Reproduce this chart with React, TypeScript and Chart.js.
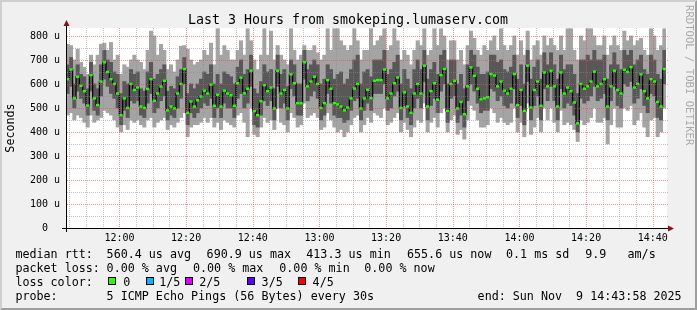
import { useEffect, useRef } from 'react';
import { Chart, registerables } from 'chart.js';

Chart.register(...registerables);

// ---------- text ----------
const TITLE = 'Last 3 Hours from smokeping.lumaserv.com';
const Y_TITLE = 'Seconds';
const WATERMARK = 'RRDTOOL / TOBI OETIKER';
const RTT_HEAD = 'median rtt:';
const RTT_STATS = ['560.4 us avg', '690.9 us max', '413.3 us min', '655.6 us now', '0.1 ms sd', '9.9   am/s'];
const LOSS_HEAD = 'packet loss:';
const LOSS_STATS = ['0.00 % avg', '0.00 % max', '0.00 % min', '0.00 % now'];
const COLOR_HEAD = 'loss color:';
const LOSS_LABELS = ['0', '1/5', '2/5', '3/5', '4/5'];
const LOSS_COLORS = ['#26ff00', '#00b8ff', '#dd00ff', '#5e00ff', '#ff0000'];
const PROBE_HEAD = 'probe:';
const PROBE_TEXT = '5 ICMP Echo Pings (56 Bytes) every 30s';
const END_TEXT = 'end: Sun Nov  9 14:43:58 2025';

// ---------- time axis (minutes after 11:00) ----------
const START_MIN = 43 + 58 / 60; // 11:43:58
const END_MIN = START_MIN + 180; // 14:43:58
const STEP_MIN = 1;
const X_TICKS = [45, 50, 55, 60, 65, 70, 75, 80, 85, 90, 95, 100, 105, 110, 115, 120, 125, 130, 135, 140, 145, 150,
  155, 160, 165, 170, 175, 180, 185, 190, 195, 200, 205, 210, 215, 220];
const Y_TICKS = [0, 50, 100, 150, 200, 250, 300, 350, 400, 450, 500, 550, 600, 650, 700, 750, 800];
const Y_MAX = 833;

// ---------- data (microseconds), one sample per minute ----------
const MEDIAN = [
  620, 660, 540, 630, 592, 570, 510, 637, 540, 512,
  610, 690, 650, 620, 600, 560, 470, 540, 500, 600,
  575, 585, 506, 500, 579, 620, 530, 560, 589, 613,
  490, 506, 498, 560, 600, 662, 480, 527, 506, 532,
  548, 572, 560, 597, 509, 555, 506, 572, 560, 553,
  509, 603, 626, 561, 580, 655, 487, 470, 528, 595,
  570, 585, 498, 655, 560, 575, 498, 640, 603, 520,
  520, 690, 590, 610, 630, 600, 500, 520, 616, 580,
  520, 515, 506, 490, 502, 540, 581, 600, 498, 540,
  576, 541, 613, 616, 616, 660, 540, 560, 603, 627,
  500, 565, 506, 480, 560, 600, 560, 676, 506, 570,
  603, 534, 637, 662, 488, 600, 613, 498, 525, 474,
  590, 669, 634, 580, 536, 540, 545, 641, 635, 590,
  610, 572, 560, 580, 641, 512, 575, 488, 676, 502,
  575, 610, 509, 648, 590, 655, 590, 506, 648, 560,
  585, 570, 523, 436, 600, 580, 590, 610, 651, 590,
  600, 620, 506, 590, 655, 575, 560, 659, 650, 670,
  585, 600, 640, 570, 540, 620, 610, 525, 506, 662,
];
const PING_MIN = [
  470, 480, 450, 470, 460, 440, 420, 470, 440, 450,
  460, 490, 480, 470, 450, 420, 400, 430, 410, 450,
  440, 450, 430, 420, 450, 460, 420, 440, 450, 460,
  410, 430, 420, 440, 460, 480, 380, 420, 430, 430,
  440, 460, 440, 460, 420, 440, 410, 450, 440, 430,
  420, 470, 480, 440, 380, 500, 390, 380, 420, 460,
  440, 450, 410, 500, 440, 430, 400, 480, 460, 420,
  430, 520, 460, 470, 480, 460, 410, 420, 480, 450,
  420, 400, 410, 380, 400, 430, 460, 470, 400, 430,
  460, 440, 480, 470, 460, 500, 430, 440, 460, 480,
  400, 440, 410, 380, 420, 450, 440, 520, 400, 440,
  460, 420, 480, 500, 400, 450, 470, 390, 410, 370,
  450, 510, 490, 450, 420, 420, 430, 500, 480, 440,
  460, 440, 430, 440, 500, 400, 440, 380, 520, 390,
  420, 460, 400, 500, 450, 500, 440, 400, 490, 430,
  440, 430, 410, 360, 450, 430, 440, 460, 500, 440,
  440, 460, 350, 430, 500, 420, 420, 500, 490, 510,
  430, 450, 480, 420, 380, 450, 460, 380, 400, 500,
];
const PING_Q1 = [
  560, 590, 500, 570, 540, 520, 470, 570, 490, 470,
  550, 620, 590, 560, 540, 500, 430, 490, 460, 530,
  520, 530, 470, 460, 520, 560, 480, 500, 530, 550,
  450, 470, 460, 500, 540, 600, 430, 480, 460, 480,
  500, 520, 510, 540, 460, 500, 460, 520, 500, 500,
  460, 540, 560, 500, 520, 590, 430, 420, 470, 530,
  510, 530, 450, 590, 500, 520, 450, 580, 550, 470,
  470, 620, 530, 550, 570, 540, 450, 470, 560, 520,
  470, 460, 460, 440, 450, 490, 530, 540, 450, 490,
  520, 490, 560, 560, 560, 600, 490, 500, 550, 570,
  450, 510, 460, 430, 500, 540, 500, 610, 450, 510,
  540, 480, 570, 600, 440, 540, 550, 440, 470, 420,
  530, 600, 570, 520, 480, 490, 490, 580, 570, 530,
  550, 510, 500, 520, 580, 460, 510, 430, 610, 450,
  510, 550, 450, 580, 530, 590, 530, 450, 580, 500,
  520, 510, 470, 400, 540, 520, 530, 550, 590, 530,
  540, 560, 450, 530, 590, 510, 500, 600, 590, 610,
  520, 540, 580, 510, 480, 560, 550, 460, 450, 600,
];
const PING_Q3 = [
  680, 710, 600, 680, 640, 630, 580, 690, 600, 580,
  680, 740, 700, 690, 650, 640, 560, 610, 600, 660,
  640, 650, 580, 570, 650, 690, 620, 640, 660, 680,
  570, 590, 580, 630, 660, 710, 560, 600, 580, 600,
  620, 650, 640, 680, 600, 640, 600, 650, 640, 630,
  600, 670, 700, 640, 660, 720, 580, 560, 610, 680,
  650, 660, 580, 720, 640, 660, 590, 700, 680, 600,
  600, 740, 660, 680, 700, 680, 600, 620, 680, 660,
  620, 640, 650, 600, 620, 660, 700, 720, 600, 650,
  660, 630, 700, 700, 700, 740, 640, 660, 690, 720,
  600, 660, 620, 580, 660, 700, 660, 740, 620, 660,
  690, 640, 720, 740, 600, 700, 700, 600, 640, 580,
  680, 740, 720, 670, 640, 640, 650, 720, 720, 690,
  700, 660, 650, 670, 720, 620, 680, 600, 740, 620,
  670, 700, 620, 730, 680, 730, 680, 620, 720, 660,
  680, 680, 640, 560, 700, 700, 720, 700, 740, 700,
  700, 720, 620, 680, 730, 680, 660, 740, 720, 740,
  680, 700, 720, 660, 640, 720, 700, 640, 620, 740,
];
const PING_MAX = [
  765, 760, 700, 745, 690, 670, 640, 720, 680, 720,
  766, 770, 740, 773, 700, 720, 640, 680, 670, 700,
  720, 700, 690, 660, 740, 820, 800, 720, 765, 740,
  660, 680, 650, 700, 757, 760, 745, 700, 680, 690,
  700, 740, 720, 770, 680, 830, 720, 760, 740, 700,
  700, 740, 780, 720, 830, 780, 700, 660, 720, 830,
  720, 820, 700, 760, 720, 700, 680, 830, 740, 700,
  720, 760, 740, 740, 760, 730, 700, 720, 830, 740,
  830, 830, 780, 760, 740, 760, 830, 780, 700, 740,
  740, 830, 760, 780, 800, 830, 740, 760, 830, 780,
  700, 740, 720, 680, 740, 780, 760, 830, 720, 740,
  830, 760, 830, 800, 700, 780, 780, 700, 740, 680,
  760, 820, 790, 740, 720, 760, 740, 780, 800, 740,
  830, 760, 740, 760, 800, 720, 780, 720, 820, 700,
  760, 780, 720, 800, 760, 790, 760, 740, 800, 740,
  830, 830, 740, 700, 800, 780, 830, 830, 800, 760,
  760, 800, 720, 760, 800, 760, 740, 820, 780, 800,
  760, 780, 790, 740, 720, 830, 800, 740, 760, 830,
];

const SAMPLE_X = MEDIAN.map((_, i) => START_MIN + STEP_MIN * (i + 0.5));

const FONT = "'DejaVu Sans Mono', monospace";
const GRID_MINOR = 'rgba(140,140,140,0.5)';
const GRID_MAJOR = 'rgba(222,80,80,0.6)';

function fmtTime(v: number) {
  const h = 11 + Math.floor(v / 60);
  const m = v % 60;
  return `${h}:${String(m).padStart(2, '0')}`;
}

const rrdPlugin = {
  id: 'rrdDecor',
  beforeDraw(chart: any) {
    const { ctx, width, height, chartArea: ca } = chart;
    ctx.save();
    ctx.fillStyle = '#f0f0f0';
    ctx.fillRect(0, 0, width, height);
    ctx.fillStyle = '#cfcfcf';
    ctx.beginPath();
    ctx.moveTo(0, 0); ctx.lineTo(0, height); ctx.lineTo(2, height - 2); ctx.lineTo(2, 2);
    ctx.lineTo(width - 2, 2); ctx.lineTo(width, 0); ctx.closePath(); ctx.fill();
    ctx.fillStyle = '#9e9e9e';
    ctx.beginPath();
    ctx.moveTo(0, height); ctx.lineTo(width, height); ctx.lineTo(width, 0); ctx.lineTo(width - 2, 2);
    ctx.lineTo(width - 2, height - 2); ctx.lineTo(2, height - 2); ctx.closePath(); ctx.fill();
    ctx.fillStyle = '#ffffff';
    ctx.fillRect(ca.left, ca.top, ca.right - ca.left + 1, ca.bottom - ca.top);
    ctx.restore();
  },
  afterDatasetsDraw(chart: any) {
    // rrdtool draws its dotted grid over the graph
    const { ctx, chartArea: ca, scales } = chart;
    const xs = scales.x;
    const ys = scales.y;
    ctx.save();
    ctx.lineWidth = 1;
    ctx.setLineDash([1, 1]);
    X_TICKS.forEach((v) => {
      const px = Math.round(xs.getPixelForValue(v)) + 0.5;
      ctx.strokeStyle = v % 20 === 0 ? GRID_MAJOR : GRID_MINOR;
      ctx.beginPath();
      ctx.moveTo(px, ca.top);
      ctx.lineTo(px, ca.bottom);
      ctx.stroke();
    });
    Y_TICKS.forEach((v) => {
      if (v === 0) return;
      const py = Math.round(ys.getPixelForValue(v)) + 0.5;
      ctx.strokeStyle = v % 100 === 0 ? GRID_MAJOR : GRID_MINOR;
      ctx.beginPath();
      ctx.moveTo(ca.left + 1, py);
      ctx.lineTo(ca.right + 2, py);
      ctx.stroke();
    });
    ctx.restore();
  },
  afterDraw(chart: any) {
    const { ctx, chartArea: ca } = chart;
    ctx.save();
    ctx.strokeStyle = '#000000';
    ctx.lineWidth = 1;
    ctx.beginPath();
    ctx.moveTo(ca.left - 4, ca.bottom + 0.5);
    ctx.lineTo(ca.right + 2, ca.bottom + 0.5);
    ctx.moveTo(ca.left + 0.5, ca.bottom + 4);
    ctx.lineTo(ca.left + 0.5, ca.top - 2);
    ctx.stroke();
    ctx.fillStyle = '#8b1010';
    ctx.beginPath();
    ctx.moveTo(ca.right + 2, ca.bottom + 0.5 - 3);
    ctx.lineTo(ca.right + 8, ca.bottom + 0.5);
    ctx.lineTo(ca.right + 2, ca.bottom + 0.5 + 3);
    ctx.closePath();
    ctx.fill();
    ctx.beginPath();
    ctx.moveTo(ca.left + 0.5 - 3, ca.top - 2);
    ctx.lineTo(ca.left + 0.5, ca.top - 8);
    ctx.lineTo(ca.left + 0.5 + 3, ca.top - 2);
    ctx.closePath();
    ctx.fill();

    ctx.fillStyle = '#000000';
    ctx.font = `13.3px ${FONT}`;
    ctx.textAlign = 'center';
    ctx.textBaseline = 'alphabetic';
    ctx.fillText(TITLE, 348, 24);

    ctx.save();
    ctx.translate(10.8, (ca.top + ca.bottom) / 2);
    ctx.rotate(-Math.PI / 2);
    ctx.font = `11.7px ${FONT}`;
    ctx.textAlign = 'center';
    ctx.textBaseline = 'middle';
    ctx.fillText(Y_TITLE, 0, 0);
    ctx.restore();

    ctx.save();
    ctx.translate(688.5, 5);
    ctx.rotate(Math.PI / 2);
    ctx.font = `10.6px ${FONT}`;
    ctx.fillStyle = 'rgba(0,0,0,0.3)';
    ctx.textAlign = 'left';
    ctx.textBaseline = 'middle';
    ctx.fillText(WATERMARK, 0, 0);
    ctx.restore();

    ctx.font = `11.7px ${FONT}`;
    ctx.textAlign = 'left';
    ctx.textBaseline = 'alphabetic';
    ctx.fillStyle = '#000000';
    const x0 = 15.4;
    const rows = [257.5, 271.5, 285.5, 299.5];
    ctx.fillText(RTT_HEAD, x0, rows[0]);
    const rttX = [106.6, 206.6, 306.3, 407.0, 506.0, 585.3];
    RTT_STATS.forEach((t, i) => ctx.fillText(t, rttX[i], rows[0]));
    ctx.fillText(LOSS_HEAD, x0, rows[1]);
    const lossX = [106.6, 193.0, 279.3, 364.3];
    LOSS_STATS.forEach((t, i) => ctx.fillText(t, lossX[i], rows[1]));
    ctx.fillText(COLOR_HEAD, x0, rows[2]);
    const boxX = [108, 146, 185, 247, 298];
    const labX = [123.3, 159.3, 199.3, 261.6, 312.6];
    LOSS_LABELS.forEach((t, i) => {
      ctx.fillStyle = LOSS_COLORS[i];
      ctx.fillRect(boxX[i], 277, 8, 8);
      ctx.strokeStyle = '#000000';
      ctx.strokeRect(boxX[i] + 0.5, 277.5, 7, 7);
      ctx.fillStyle = '#000000';
      ctx.fillText(t, labX[i], rows[2]);
    });
    ctx.fillText(PROBE_HEAD, x0, rows[3]);
    ctx.fillText(PROBE_TEXT, 106.6, rows[3]);
    ctx.fillText(END_TEXT, 477.6, rows[3]);
    ctx.restore();
  },
};

export default function App() {
  const ref = useRef<HTMLCanvasElement | null>(null);

  useEffect(() => {
    document.body.style.margin = '0';
    const canvas = ref.current;
    if (!canvas) return;

    const pts = (lo: number[], hi: number[]) => SAMPLE_X.map((x, i) => ({ x, y: [lo[i], hi[i]] }));
    const medPts = MEDIAN.map((v, i) => ({ x: SAMPLE_X[i], y: v }));

    const chart = new Chart(canvas, {
      type: 'bar',
      data: {
        datasets: [
          {
            type: 'line',
            label: 'median loss colour',
            data: medPts,
            showLine: false,
            pointStyle: 'line',
            pointRadius: 1.7,
            pointBorderWidth: 2.4,
            pointBorderColor: LOSS_COLORS[0],
            pointBackgroundColor: LOSS_COLORS[0],
          } as any,
          {
            type: 'line',
            label: 'median',
            data: medPts,
            showLine: true,
            stepped: 'middle',
            borderColor: '#000000',
            borderWidth: 1.2,
            pointRadius: 0,
            fill: false,
          } as any,
          {
            label: 'inner smoke',
            data: pts(PING_Q1, PING_Q3) as any,
            backgroundColor: '#585858',
            grouped: false,
            categoryPercentage: 1,
            barPercentage: 1,
            borderWidth: 0,
          },
          {
            label: 'outer smoke',
            data: pts(PING_MIN, PING_MAX) as any,
            backgroundColor: '#a4a4a4',
            grouped: false,
            categoryPercentage: 1,
            barPercentage: 1,
            borderWidth: 0,
          },
        ],
      },
      options: {
        responsive: false,
        devicePixelRatio: 1,
        animation: false,
        events: [],
        layout: { padding: { top: 28, right: 31, left: 0, bottom: 0 } },
        plugins: { legend: { display: false }, tooltip: { enabled: false }, title: { display: false } },
        scales: {
          x: {
            type: 'linear',
            min: START_MIN,
            max: END_MIN,
            offset: false,
            afterBuildTicks: (s: any) => { s.ticks = X_TICKS.map((v) => ({ value: v })); },
            afterFit: (s: any) => { s.height = 82; },
            grid: { display: false, offset: false, drawTicks: false },
            border: { display: false },
            ticks: {
              autoSkip: false,
              maxRotation: 0,
              minRotation: 0,
              padding: 4,
              color: '#000000',
              font: { family: FONT, size: 10 },
              callback: (v: any) => (Number(v) % 20 === 0 ? fmtTime(Number(v)) : ''),
            },
          },
          y: {
            type: 'linear',
            min: 0,
            max: Y_MAX,
            afterBuildTicks: (s: any) => { s.ticks = Y_TICKS.map((v) => ({ value: v })); },
            afterFit: (s: any) => { s.width = 66; },
            grid: { display: false, drawTicks: false },
            border: { display: false },
            ticks: {
              autoSkip: false,
              padding: 6,
              color: '#000000',
              font: { family: FONT, size: 10 },
              callback: (v: any) => {
                const n = Number(v);
                if (n === 0) return '0  ';
                return n % 100 === 0 ? `${n} u` : '';
              },
            },
          },
        },
      } as any,
      plugins: [rrdPlugin],
    });

    return () => chart.destroy();
  }, []);

  return (
    <div style={{ position: 'absolute', left: 0, top: 0, width: 697, height: 310 }}>
      <canvas ref={ref} width={697} height={310} style={{ width: 697, height: 310, display: 'block' }} />
    </div>
  );
}
